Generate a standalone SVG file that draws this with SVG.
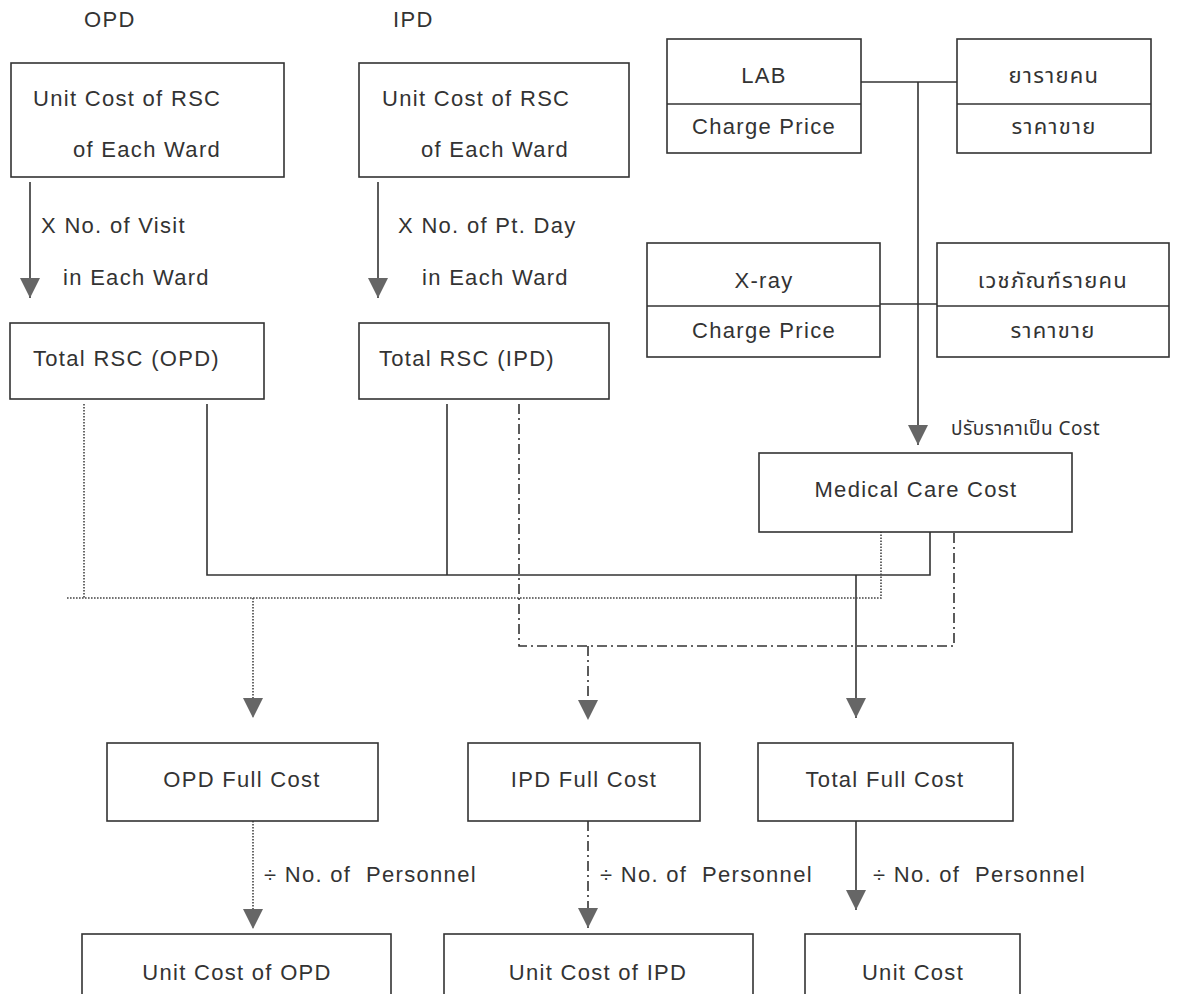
<svg xmlns="http://www.w3.org/2000/svg" width="1177" height="994" viewBox="0 0 1177 994">
<defs>
<style>
.t{font-family:"Liberation Sans",Arial,"Noto Sans Thai","Noto Sans","DejaVu Sans",sans-serif;font-size:22px;fill:#333;letter-spacing:1.3px}
.c{text-anchor:middle}
.th{font-family:"Noto Sans Thai","Liberation Sans","Noto Sans","DejaVu Sans",sans-serif}
.box{fill:#fff;stroke:#333;stroke-width:1.6}
.ln{fill:none;stroke:#333;stroke-width:1.6}
.dot{fill:none;stroke:#444;stroke-width:1.6;stroke-dasharray:1.6,1.4}
.dd{fill:none;stroke:#333;stroke-width:1.6;stroke-dasharray:10,4,2,4}
</style>
<marker id="ah" viewBox="0 0 20 20" refX="20" refY="10" markerWidth="20" markerHeight="20" markerUnits="userSpaceOnUse" orient="auto">
<path d="M0,0 L20,10 L0,20 z" fill="#666"/>
</marker>
</defs>
<rect width="1177" height="994" fill="#fff"/>

<g id="connectors">
<line class="ln" x1="30" y1="182" x2="30" y2="298" marker-end="url(#ah)"/>
<line class="ln" x1="378" y1="182" x2="378" y2="298" marker-end="url(#ah)"/>
<line class="ln" x1="861" y1="82" x2="957" y2="82"/>
<line class="ln" x1="880" y1="304" x2="937" y2="304"/>
<line class="ln" x1="918" y1="82" x2="918" y2="445" marker-end="url(#ah)"/>
<polyline class="ln" points="207,404 207,575 930,575 930,532"/>
<line class="ln" x1="447" y1="404" x2="447" y2="575"/>
<line class="ln" x1="856" y1="575" x2="856" y2="718" marker-end="url(#ah)"/>
<line class="ln" x1="856" y1="821" x2="856" y2="910" marker-end="url(#ah)"/>
<line class="dot" x1="84" y1="404" x2="84" y2="598"/>
<polyline class="dot" points="67,598 881,598 881,532"/>
<line class="dot" x1="253" y1="598" x2="253" y2="718" marker-end="url(#ah)"/>
<line class="dot" x1="253" y1="821" x2="253" y2="929" marker-end="url(#ah)"/>
<polyline class="dd" points="519,404 519,646 954,646 954,532"/>
<line class="dd" x1="588" y1="646" x2="588" y2="720" marker-end="url(#ah)"/>
<line class="dd" x1="588" y1="821" x2="588" y2="928" marker-end="url(#ah)"/>
</g>

<g id="label-opd"><text class="t" x="84" y="27">OPD</text></g>
<g id="label-ipd"><text class="t" x="393" y="27">IPD</text></g>

<g id="unit-rsc-opd">
<rect class="box" x="11" y="63" width="273" height="114"/>
<text class="t" x="33" y="106">Unit Cost of RSC</text>
<text class="t" x="73" y="157">of Each Ward</text>
</g>
<g id="unit-rsc-ipd">
<rect class="box" x="359" y="63" width="270" height="114"/>
<text class="t" x="382" y="106">Unit Cost of RSC</text>
<text class="t" x="421" y="157">of Each Ward</text>
</g>

<g id="label-visit">
<text class="t" x="41" y="233">X No. of Visit</text>
<text class="t" x="63" y="285">in Each Ward</text>
</g>
<g id="label-ptday">
<text class="t" x="398" y="233">X No. of Pt. Day</text>
<text class="t" x="422" y="285">in Each Ward</text>
</g>

<g id="total-rsc-opd">
<rect class="box" x="10" y="323" width="254" height="76"/>
<text class="t" x="33" y="366">Total RSC (OPD)</text>
</g>
<g id="total-rsc-ipd">
<rect class="box" x="359" y="323" width="250" height="76"/>
<text class="t" x="379" y="366">Total RSC (IPD)</text>
</g>

<g id="lab">
<rect class="box" x="667" y="39" width="194" height="114"/>
<line class="ln" x1="667" y1="104" x2="861" y2="104"/>
<text class="t c" x="764" y="83">LAB</text>
<text class="t c" x="764" y="134">Charge Price</text>
</g>
<g id="drug">
<rect class="box" x="957" y="39" width="194" height="114"/>
<line class="ln" x1="957" y1="104" x2="1151" y2="104"/>
<text class="t c th" x="1054" y="83">ยารายคน</text>
<text class="t c th" x="1054" y="134">ราคาขาย</text>
</g>
<g id="xray">
<rect class="box" x="647" y="243" width="233" height="114"/>
<line class="ln" x1="647" y1="306" x2="880" y2="306"/>
<text class="t c" x="764" y="288">X-ray</text>
<text class="t c" x="764" y="338">Charge Price</text>
</g>
<g id="supply">
<rect class="box" x="937" y="243" width="232" height="114"/>
<line class="ln" x1="937" y1="306" x2="1169" y2="306"/>
<text class="t c th" x="1053" y="288">เวชภัณฑ์รายคน</text>
<text class="t c th" x="1053" y="338">ราคาขาย</text>
</g>

<g id="label-adjust"><text class="t th" x="951" y="435" style="font-size:19px;letter-spacing:0.5px">ปรับราคาเป็น Cost</text></g>

<g id="medical-care-cost">
<rect class="box" x="759" y="453" width="313" height="79"/>
<text class="t c" x="916" y="497">Medical Care Cost</text>
</g>

<g id="opd-full-cost">
<rect class="box" x="107" y="743" width="271" height="78"/>
<text class="t c" x="242" y="787">OPD Full Cost</text>
</g>
<g id="ipd-full-cost">
<rect class="box" x="468" y="743" width="232" height="78"/>
<text class="t c" x="584" y="787">IPD Full Cost</text>
</g>
<g id="total-full-cost">
<rect class="box" x="758" y="743" width="255" height="78"/>
<text class="t c" x="885" y="787">Total Full Cost</text>
</g>

<g id="label-div-opd"><text class="t" x="264" y="882" xml:space="preserve">÷ No. of  Personnel</text></g>
<g id="label-div-ipd"><text class="t" x="600" y="882" xml:space="preserve">÷ No. of  Personnel</text></g>
<g id="label-div-total"><text class="t" x="873" y="882" xml:space="preserve">÷ No. of  Personnel</text></g>

<g id="unit-cost-opd">
<rect class="box" x="82" y="934" width="309" height="70"/>
<text class="t c" x="237" y="980">Unit Cost of OPD</text>
</g>
<g id="unit-cost-ipd">
<rect class="box" x="444" y="934" width="309" height="70"/>
<text class="t c" x="598" y="980">Unit Cost of IPD</text>
</g>
<g id="unit-cost">
<rect class="box" x="805" y="934" width="215" height="70"/>
<text class="t c" x="913" y="980">Unit Cost</text>
</g>
</svg>
